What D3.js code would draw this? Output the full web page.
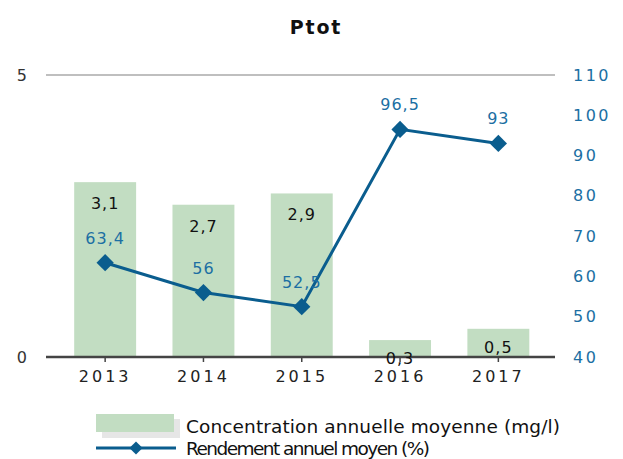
<!DOCTYPE html>
<html><head><meta charset="utf-8">
<script src="https://cdn.jsdelivr.net/npm/d3@7"></script>
<style>
body{margin:0;background:#fff;}
text{font-family:"DejaVu Sans",Verdana,sans-serif;}
</style></head>
<body><svg id="c" width="623" height="459"></svg>
<script>
const years = ["2013","2014","2015","2016","2017"];
const concentration = [3.1, 2.7, 2.9, 0.3, 0.5];
const rendement = [63.4, 56, 52.5, 96.5, 93];
const leftTicks = [0, 5];
const rightTicks = [40, 50, 60, 70, 80, 90, 100, 110];
const seriesNames = ["Concentration annuelle moyenne (mg/l)", "Rendement annuel moyen (%)"];
const title = "Ptot";

const barColor = "#c2ddc2", lineColor = "#0a5d8e", blueText = "#1c6fa3";
const svg = d3.select("#c");
const L = 46, R = 555, T = 75, B = 357;
const x = d3.scaleBand().domain(years).range([56, 547.5]).paddingInner(0.37).paddingOuter(0.185);
const yL = d3.scaleLinear().domain([0,5]).range([B,T]);
const yR = d3.scaleLinear().domain([40,110]).range([B,T]);
const fmt = v => String(v).replace(".", ",");

svg.append("text").attr("x", 316).attr("y", 34).attr("text-anchor","middle")
  .attr("font-size", 19).attr("font-weight","bold").attr("letter-spacing",1.8).attr("fill","#111").text(title);

// top gridline
svg.append("line").attr("x1",L).attr("x2",R).attr("y1",yL(5)).attr("y2",yL(5)).attr("stroke","#aaa").attr("stroke-width",1.3);

// bars
svg.selectAll("rect.bar").data(years).join("rect").attr("class","bar")
  .attr("x", d=>x(d)).attr("width", x.bandwidth())
  .attr("y", (d,i)=>yL(concentration[i])).attr("height",(d,i)=>B-yL(concentration[i]))
  .attr("fill", barColor);

// baseline
svg.append("line").attr("x1",L).attr("x2",R).attr("y1",B).attr("y2",B).attr("stroke","#444").attr("stroke-width",2.5);

// x axis
const xa = svg.append("g").attr("transform",`translate(0,${B})`).call(d3.axisBottom(x).tickSize(5).tickSizeOuter(0));
xa.select(".domain").remove();
xa.selectAll(".tick line").attr("stroke","#444").attr("stroke-width",1.5).attr("y1",1);
xa.selectAll(".tick text").attr("font-size",16).attr("letter-spacing",3).attr("fill","#222").attr("dy","1.0em").attr("y",9)
  .attr("font-family","DejaVu Sans");

// left axis
const la = svg.append("g").attr("transform",`translate(28,0)`).call(d3.axisLeft(yL).tickValues(leftTicks).tickFormat(d3.format("d")).tickSize(0));
la.select(".domain").remove();
la.selectAll(".tick text").attr("font-size",16).attr("fill","#333").attr("x",-1).attr("font-family","DejaVu Sans");

// right axis
const ra = svg.append("g").attr("transform",`translate(573,0)`).call(d3.axisRight(yR).tickValues(rightTicks).tickSize(0));
ra.select(".domain").remove();
ra.selectAll(".tick text").attr("font-size",16).attr("letter-spacing",2.5).attr("fill",blueText).attr("x",0).attr("font-family","DejaVu Sans");

// bar labels
svg.selectAll("text.bl").data(years).join("text").attr("class","bl")
  .attr("x", d=>x(d)+x.bandwidth()/2).attr("y",(d,i)=>yL(concentration[i])+(concentration[i]<1?24:27))
  .attr("text-anchor","middle").attr("font-size",16).attr("letter-spacing",1).attr("fill","#111")
  .text((d,i)=>fmt(concentration[i]));

// line
const cx = d=>x(d)+x.bandwidth()/2;
svg.append("path").datum(years).attr("fill","none").attr("stroke",lineColor).attr("stroke-width",3)
  .attr("d", d3.line().x(d=>cx(d)).y((d,i)=>yR(rendement[i])));
svg.selectAll("path.mk").data(years).join("path").attr("class","mk")
  .attr("transform",(d,i)=>`translate(${cx(d)},${yR(rendement[i])})`)
  .attr("d", d3.symbol(d3.symbolDiamond2, 190)()).attr("fill",lineColor);
svg.selectAll("text.ll").data(years).join("text").attr("class","ll")
  .attr("x", d=>cx(d)).attr("y",(d,i)=>yR(rendement[i])-19)
  .attr("text-anchor","middle").attr("font-size",16).attr("letter-spacing",1).attr("fill",blueText)
  .text((d,i)=>fmt(rendement[i]));

// legend
const lg = svg.append("g");
lg.append("rect").attr("x",102).attr("y",419).attr("width",78).attr("height",19).attr("fill","#e6e6e6");
lg.append("rect").attr("x",96).attr("y",414).attr("width",78).attr("height",18).attr("fill",barColor);
lg.append("line").attr("x1",96).attr("x2",176).attr("y1",448).attr("y2",448).attr("stroke",lineColor).attr("stroke-width",3);
lg.append("path").attr("transform","translate(136,448)").attr("d", d3.symbol(d3.symbolDiamond2, 110)()).attr("fill",lineColor);
lg.append("text").attr("x",186).attr("y",433).attr("font-size",18.5).attr("font-family","Liberation Sans, Arial, sans-serif").attr("fill","#111")
  .attr("textLength",374).attr("lengthAdjust","spacing").text(seriesNames[0]);
lg.append("text").attr("x",186).attr("y",455).attr("font-size",18.5).attr("font-family","Liberation Sans, Arial, sans-serif").attr("fill","#111")
  .attr("textLength",244).attr("lengthAdjust","spacing").text(seriesNames[1]);
</script></body></html>
